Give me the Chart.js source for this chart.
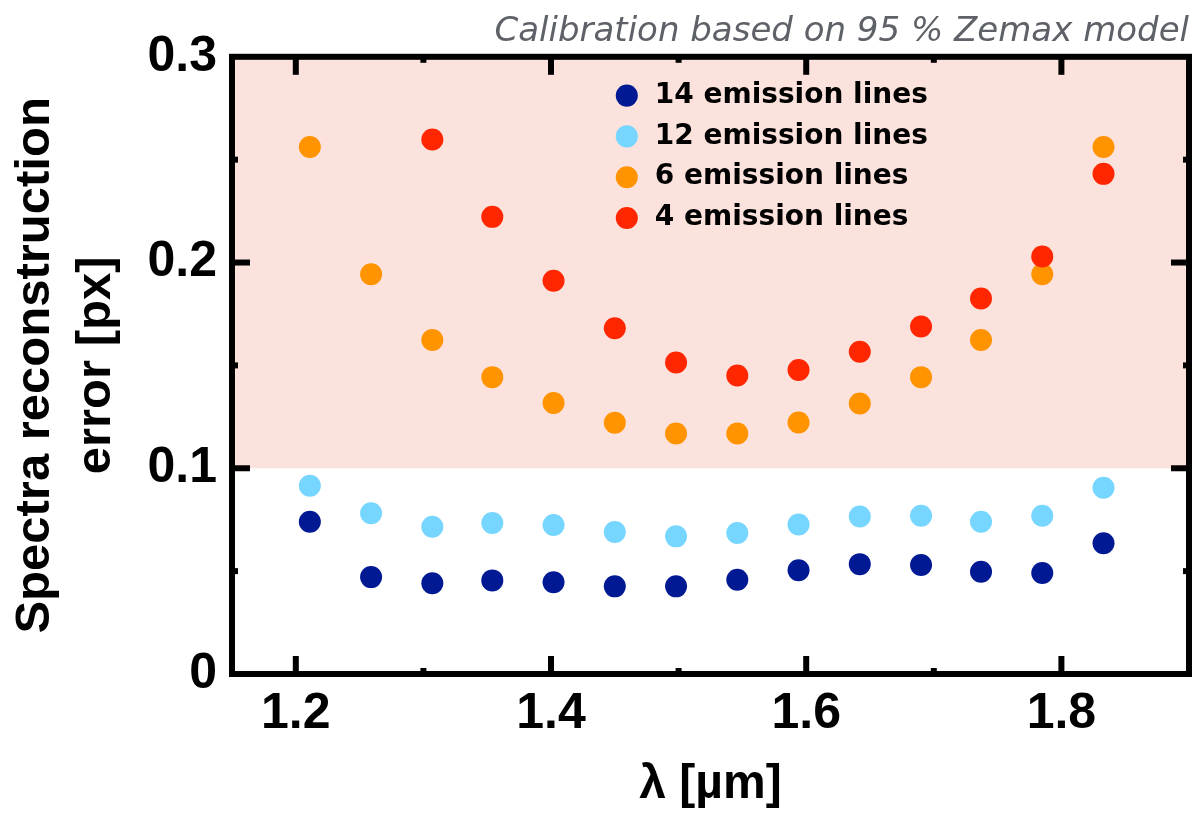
<!DOCTYPE html>
<html>
<head>
<meta charset="utf-8">
<script src="https://cdn.jsdelivr.net/npm/chart.js@4.4.1/dist/chart.umd.min.js"></script>
<style>
  html, body { margin: 0; padding: 0; background: #fff; }
</style>
</head>
<body>
<canvas id="errChart" width="1203" height="820"></canvas>
<script>
// wavelength of each calibration point [um]
const wavelength = [1.211, 1.259, 1.307, 1.354, 1.402, 1.450, 1.498, 1.546, 1.594, 1.642, 1.690, 1.737, 1.785, 1.833];

// reconstruction error [px] per number of emission lines
const lines14 = [0.0740, 0.0471, 0.0441, 0.0455, 0.0446, 0.0426, 0.0426, 0.0458, 0.0504, 0.0534, 0.0530, 0.0497, 0.0491, 0.0636];
const lines12 = [0.0915, 0.0781, 0.0716, 0.0734, 0.0724, 0.0690, 0.0669, 0.0685, 0.0727, 0.0766, 0.0769, 0.0740, 0.0769, 0.0905];
const lines6 = [0.2562, 0.1943, 0.1623, 0.1443, 0.1317, 0.1221, 0.1169, 0.1169, 0.1222, 0.1315, 0.1443, 0.1623, 0.1943, 0.2562];
const lines4 = [null, null, 0.2598, 0.2222, 0.1911, 0.1681, 0.1514, 0.1451, 0.1478, 0.1566, 0.1689, 0.1825, 0.2029, 0.2431];

const xTicks = [1.2, 1.4, 1.6, 1.8];
const xTickLabels = ['1.2', '1.4', '1.6', '1.8'];
const xMinor = [1.3, 1.5, 1.7];
const yTicks = [0, 0.1, 0.2, 0.3];
const yTickLabels = ['0', '0.1', '0.2', '0.3'];
const yMinor = [0.05, 0.15, 0.25];

// error band above the tolerance limit
const badZone = [0.1, 0.3];

const toPoints = arr => wavelength
    .map((w, i) => ({ x: w, y: arr[i] }))
    .filter(p => p.y !== null);

const SANS = "'Liberation Sans', Arial, Helvetica, sans-serif";

// shaded band, plot frame and inward ticks
const frameTicks = {
    id: 'frameTicks',
    afterLayout(chart) {
        // put the legend inside the plot area
        const lg = chart.legend, a = chart.chartArea;
        const w = lg.width, h = lg.height;
        lg.left = a.left + 368;
        lg.top = a.top + 12;
        lg.right = lg.left + w;
        lg.bottom = lg.top + h;
    },
    beforeDraw(chart) {
        const { ctx, chartArea: a, scales: { y } } = chart;
        const top = y.getPixelForValue(badZone[1]);
        const bottom = y.getPixelForValue(badZone[0]);
        ctx.save();
        ctx.fillStyle = '#fbe2dc';
        ctx.fillRect(a.left, top, a.right - a.left, bottom - top);
        ctx.restore();
    },
    afterDraw(chart) {
        const { ctx, chartArea: a, scales: { x, y } } = chart;
        ctx.save();
        ctx.strokeStyle = '#000';
        ctx.lineWidth = 6;
        const line = (x1, y1, x2, y2) => {
            ctx.beginPath();
            ctx.moveTo(x1, y1);
            ctx.lineTo(x2, y2);
            ctx.stroke();
        };
        const major = 18, minor = 6;
        xTicks.forEach(v => {
            const px = x.getPixelForValue(v);
            line(px, a.bottom, px, a.bottom - major);
            line(px, a.top, px, a.top + major);
        });
        xMinor.forEach(v => {
            const px = x.getPixelForValue(v);
            line(px, a.bottom, px, a.bottom - minor);
            line(px, a.top, px, a.top + minor);
        });
        yTicks.slice(1, -1).forEach(v => {
            const py = y.getPixelForValue(v);
            line(a.left, py, a.left + major, py);
            line(a.right, py, a.right - major, py);
        });
        yMinor.forEach(v => {
            const py = y.getPixelForValue(v);
            line(a.left, py, a.left + minor, py);
            line(a.right, py, a.right - minor, py);
        });
        ctx.strokeRect(a.left, a.top, a.right - a.left, a.bottom - a.top);
        ctx.restore();
    }
};

const ctx = document.getElementById('errChart').getContext('2d');

const errChart = new Chart(ctx, {
    type: 'scatter',
    data: {
        datasets: [
            { label: '14 emission lines', data: toPoints(lines14), backgroundColor: '#011993', order: 1 },
            { label: '12 emission lines', data: toPoints(lines12), backgroundColor: '#76d6ff', order: 1 },
            { label: '6 emission lines', data: toPoints(lines6), backgroundColor: '#ff9300', order: 1 },
            { label: '4 emission lines', data: toPoints(lines4), backgroundColor: '#ff2600', order: 0 }
        ]
    },
    options: {
        responsive: false,
        animation: false,
        layout: { padding: { left: 0, right: 14, top: 0, bottom: 0 } },
        elements: {
            point: { radius: 11, borderWidth: 0, pointStyle: 'circle' }
        },
        scales: {
            x: {
                type: 'linear',
                min: 1.15,
                max: 1.9,
                grid: { display: false, drawTicks: false },
                border: { display: false },
                afterBuildTicks: s => { s.ticks = xTicks.map(v => ({ value: v })); },
                afterFit: s => { s.height = 146; },
                ticks: {
                    color: '#000',
                    padding: 10,
                    maxRotation: 0,
                    autoSkip: false,
                    font: { family: SANS, weight: 'bold', size: 50 },
                    callback: (v, i) => xTickLabels[i]
                },
                title: {
                    display: true,
                    text: 'λ [µm]',
                    color: '#000',
                    font: { family: SANS, weight: 'bold', size: 48 },
                    padding: { top: 0, bottom: 6 }
                }
            },
            y: {
                type: 'linear',
                min: 0,
                max: 0.3,
                grid: { display: false, drawTicks: false },
                border: { display: false },
                afterBuildTicks: s => { s.ticks = yTicks.map(v => ({ value: v })); },
                afterFit: s => { s.width = 232; },
                ticks: {
                    color: '#000',
                    padding: 15,
                    font: { family: SANS, weight: 'bold', size: 50 },
                    callback: (v, i) => yTickLabels[i]
                },
                title: {
                    display: true,
                    text: ['Spectra reconstruction', 'error [px]'],
                    color: '#000',
                    font: { family: SANS, weight: 'bold', size: 49, lineHeight: 1.25 },
                    padding: { top: 5, bottom: 0 }
                }
            }
        },
        plugins: {
            tooltip: { enabled: false },
            title: {
                display: true,
                text: 'Calibration based on 95 % Zemax model',
                align: 'end',
                color: '#5e6167',
                font: { family: "'DejaVu Sans', sans-serif", style: 'italic', weight: 'normal', size: 34 },
                padding: { top: 12, bottom: 4 }
            },
            legend: {
                position: 'chartArea',
                align: 'start',
                labels: {
                    usePointStyle: true,
                    pointStyle: 'circle',
                    boxWidth: 28,
                    boxHeight: 15.6,
                    padding: 12.8,
                    color: '#000',
                    font: { family: "'DejaVu Sans', sans-serif", weight: 'bold', size: 28 },
                    // keep the dataset order, not the draw order
                    sort: (a, b) => a.datasetIndex - b.datasetIndex
                }
            }
        }
    },
    plugins: [frameTicks]
});
</script>
</body>
</html>
